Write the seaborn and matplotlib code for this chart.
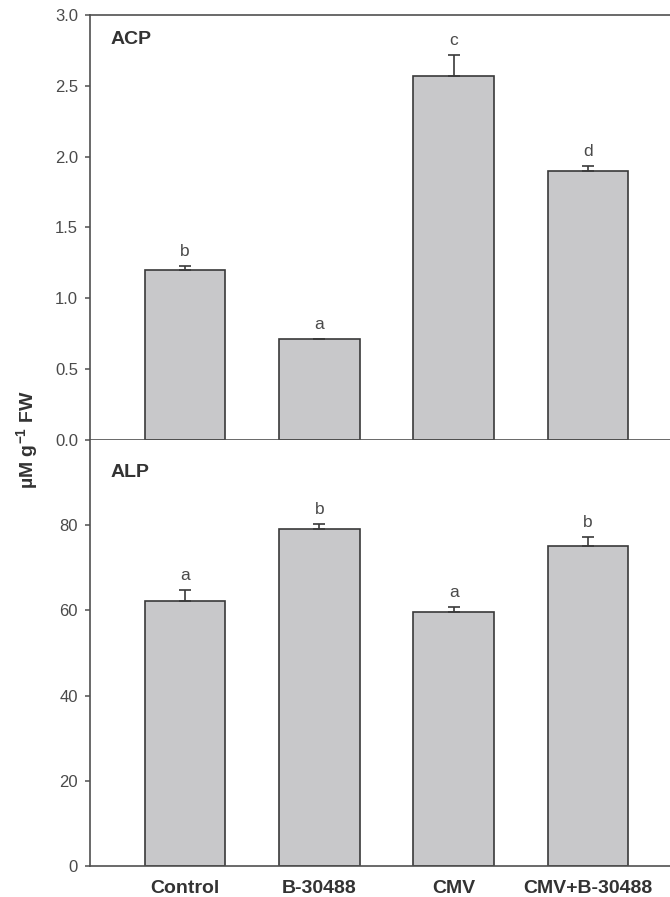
import matplotlib
matplotlib.use("Agg")
import matplotlib.pyplot as plt
import seaborn as sns
import pandas as pd

sns.set_style("white")
plt.rcParams["font.family"] = ["Liberation Sans", "DejaVu Sans"]
plt.rcParams["mathtext.fontset"] = "custom"
plt.rcParams["mathtext.rm"] = "Liberation Sans"
plt.rcParams["mathtext.bf"] = "Liberation Sans:bold"

treatments = ["Control", "B-30488", "CMV", "CMV+B-30488"]
acp_mean = [1.20, 0.71, 2.57, 1.90]
acp_se = [0.03, 0.0, 0.15, 0.035]
acp_letters = ["b", "a", "c", "d"]
alp_mean = [62.3, 79.2, 59.7, 75.2]
alp_se = [2.5, 1.1, 1.2, 2.0]
alp_letters = ["a", "b", "a", "b"]

BAR = "#c8c8ca"
EDGE = "#3a3a3a"
AXC = "#505050"
TXT = "#4a4a4a"

fig = plt.figure(figsize=(6.70, 8.97), dpi=100)
ax_top = fig.add_axes([0.1343, 0.5095, 0.885, 0.4738])
ax_bot = fig.add_axes([0.1343, 0.0346, 0.885, 0.4749])


def panel(ax, means, errs, letters, name, ylim, yticks, fmt, name_y):
    df = pd.DataFrame({"treatment": treatments, "value": means})
    sns.barplot(data=df, x="treatment", y="value", order=treatments, color=BAR,
                saturation=1, edgecolor=EDGE, linewidth=1.2, width=0.6,
                errorbar=None, ax=ax)
    xs = list(range(len(treatments)))
    ax.errorbar(xs, means, yerr=[[0] * len(errs), errs], fmt="none",
                ecolor=EDGE, elinewidth=1.2, capsize=4, capthick=1.2, zorder=3)
    for x, m, e, lab in zip(xs, means, errs, letters):
        ax.annotate(lab, (x, m + e), xytext=(0, 5), textcoords="offset points",
                    ha="center", va="bottom", fontsize=12.5, color=TXT)
    ax.set_xlim(-0.706, 3.706)
    ax.set_ylim(*ylim)
    ax.set_yticks(yticks)
    ax.set_yticklabels([fmt(v) for v in yticks])
    ax.set_xlabel("")
    ax.set_ylabel("")
    ax.text(0.035, name_y, name, transform=ax.transAxes, fontsize=14,
            fontweight="bold", color="#333333", ha="left", va="center")
    ax.tick_params(axis="y", direction="out", length=3.6, width=1.1, color=AXC,
                   labelsize=12, labelcolor=TXT, pad=5, left=True)
    ax.tick_params(axis="x", length=0)
    for s in ["left", "bottom", "top"]:
        ax.spines[s].set_color(AXC)
        ax.spines[s].set_linewidth(1.2)
    ax.spines["right"].set_visible(False)


panel(ax_top, acp_mean, acp_se, acp_letters, "ACP", (0, 3.0),
      [0.0, 0.5, 1.0, 1.5, 2.0, 2.5, 3.0], lambda v: f"{v:.1f}", 0.943)
panel(ax_bot, alp_mean, alp_se, alp_letters, "ALP", (0, 100),
      [0, 20, 40, 60, 80], lambda v: f"{v:d}", 0.923)

ax_top.set_xticklabels([])
ax_bot.spines["top"].set_visible(False)
ax_bot.set_xticks(range(len(treatments)))
ax_bot.set_xticklabels(treatments, fontsize=14, fontweight="bold", color="#333333")
ax_bot.tick_params(axis="x", pad=10)

fig.text(0.042, 0.51, r"µM g$^{\mathbf{-1}}$ FW", rotation=90, ha="center",
         va="center", fontsize=14, fontweight="bold", color="#333333")

fig.savefig("out.png", dpi=100)
